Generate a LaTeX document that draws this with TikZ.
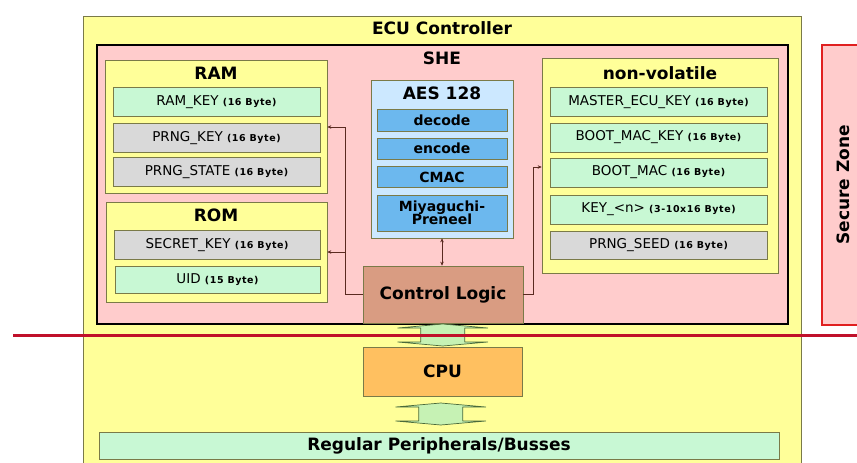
\documentclass[tikz,border=0pt]{standalone}
\usepackage{fontspec}
\setmainfont{DejaVu Sans}
\newfontfamily\bytefont[LetterSpace=6]{DejaVu Sans}
\usetikzlibrary{arrows.meta,calc}

\definecolor{ecuyellow}{HTML}{FFFF99}
\definecolor{shepink}{HTML}{FFCCCC}
\definecolor{keygreen}{HTML}{C8F8D4}
\definecolor{keygray}{HTML}{D9D9D9}
\definecolor{aesblue}{HTML}{CCE8FF}
\definecolor{opblue}{HTML}{6CB8EE}
\definecolor{logicbrown}{HTML}{D99C82}
\definecolor{cpuorange}{HTML}{FFC060}
\definecolor{edgeolive}{HTML}{7A7A48}
\definecolor{zonered}{HTML}{E02020}
\definecolor{linered}{HTML}{C0102A}
\definecolor{arrowgreen}{HTML}{C6F2B4}
\definecolor{arrowedge}{HTML}{4A6A3A}
\definecolor{wirebrown}{HTML}{5A2A20}

% size suffix of a key entry, e.g. "(16 Byte)"
\newcommand\bsz[1]{{\bytefont\fontsize{9.5}{10}\bfseries #1}}

\tikzset{
  frame/.style={draw=edgeolive, line width=0.6pt, inner sep=0pt},
  title/.style={font=\fontsize{17}{19}\selectfont\bfseries, inner sep=0pt},
  keybox/.style={frame, minimum height=29pt, font=\fontsize{13.5}{15}\selectfont},
  greenkey/.style={keybox, fill=keygreen},
  graykey/.style={keybox, fill=keygray},
  opbox/.style={draw=edgeolive, fill=opblue, line width=0.6pt, inner sep=0pt,
    minimum width=130pt, font=\fontsize{14}{14}\selectfont\bfseries, align=center},
  wire/.style={draw=wirebrown, line width=0.8pt},
  tip/.style={-{Stealth[length=4pt,width=3.5pt]}},
  fat/.style={draw=arrowedge, fill=arrowgreen, line width=0.7pt, line join=round},
  dblarrow/.pic={
    \path[fat] (0,-11) -- (45,-7) -- (22,-7) -- (22,7) -- (45,7) -- (0,11)
      -- (-45,7) -- (-22,7) -- (-22,-7) -- (-45,-7) -- cycle;
  }
}

\begin{document}
\begin{tikzpicture}[x=1pt, y=-1pt]
\useasboundingbox (0,0) rectangle (857,463);
\clip (0,0) rectangle (857,463);

% ECU and secure zone frames
\node[frame, fill=ecuyellow, minimum width=718pt, minimum height=460pt] (ecu) at (442,246) {};
\node[title] (ecut) at (442,28) {ECU Controller};
\node[draw=zonered, fill=shepink, line width=1.4pt, minimum width=50pt, minimum height=280pt] (zone) at (847,185) {};
\node[title, rotate=90] (zonet) at (843,185) {Secure Zone};

% SHE module
\node[draw=black, fill=shepink, line width=2.2pt, minimum width=691pt, minimum height=279pt, inner sep=0pt] (she) at (442.5,184.5) {};
\node[title] (shet) at (442,58) {SHE};

% RAM
\node[frame, fill=ecuyellow, minimum width=222pt, minimum height=133pt] (ram) at (216,126.5) {};
\node[title] (ramt) at (216,73) {RAM};
\node[greenkey, minimum width=207pt] (ramkey) at (216.5,102) {RAM\_KEY \bsz{(16 Byte)}};
\node[graykey, minimum width=207pt] (prngkey) at (216.5,138) {PRNG\_KEY \bsz{(16 Byte)}};
\node[graykey, minimum width=207pt] (prngstate) at (216.5,172) {PRNG\_STATE \bsz{(16 Byte)}};

% ROM
\node[frame, fill=ecuyellow, minimum width=221pt, minimum height=100pt] (rom) at (216.5,252) {};
\node[title] (romt) at (216,215) {ROM};
\node[graykey, minimum width=206pt] (secret) at (217,245) {SECRET\_KEY \bsz{(16 Byte)}};
\node[greenkey, minimum width=205pt, minimum height=27pt] (uid) at (217.5,279.5) {UID \bsz{(15 Byte)}};

% non-volatile memory
\node[frame, fill=ecuyellow, minimum width=236pt, minimum height=215pt] (nv) at (660,165.5) {};
\node[title] (nvt) at (660,73) {non-volatile};
\node[greenkey, minimum width=217pt] (master) at (658.5,102) {MASTER\_ECU\_KEY \bsz{(16 Byte)}};
\node[greenkey, minimum width=217pt] (bootkey) at (658.5,137.5) {BOOT\_MAC\_KEY \bsz{(16 Byte)}};
\node[greenkey, minimum width=217pt] (bootmac) at (658.5,172.5) {BOOT\_MAC \bsz{(16 Byte)}};
\node[greenkey, minimum width=217pt] (keyn) at (658.5,209.5) {KEY\_<n> \bsz{(3-10x16 Byte)}};
\node[graykey, minimum width=217pt, minimum height=28pt] (seed) at (658.5,245) {PRNG\_SEED \bsz{(16 Byte)}};

% AES engine
\node[frame, fill=aesblue, minimum width=142pt, minimum height=158pt] (aes) at (442,159) {};
\node[title] (aest) at (442,93) {AES 128};
\node[opbox, minimum height=22pt] (decode) at (442,120) {decode};
\node[opbox, minimum height=21pt] (encode) at (442,148.5) {encode};
\node[opbox, minimum height=21pt] (cmac) at (442,177) {CMAC};
\node[opbox, minimum height=36pt] (mp) at (442,213) {Miyaguchi-\\[-1pt]Preneel};

% control logic
\node[frame, fill=logicbrown, minimum width=160pt, minimum height=57pt,
      font=\fontsize{17}{19}\selectfont\bfseries] (cl) at (443,294.5) {Control Logic};

% connections inside SHE
\coordinate (lt) at (345,127);
\coordinate (lb) at (345,252);
\coordinate (rt) at (533,167);
\draw[wire, tip] (cl.west) -| (lt) -- (ram.east |- lt);
\draw[wire, tip] (lb) -- (rom.east |- lb);
\draw[wire, tip] (cl.east) -| (rt) -- (nv.west |- rt);
\draw[wire, {Stealth[length=4pt,width=3.5pt]}-{Stealth[length=4pt,width=3.5pt]}] (aes.south) -- (aes.south |- cl.north);

% CPU and peripherals
\node[frame, fill=cpuorange, minimum width=159pt, minimum height=49pt,
      font=\fontsize{17}{19}\selectfont\bfseries] (cpu) at (442.5,371.5) {CPU};
\node[frame, fill=keygreen, minimum width=680pt, minimum height=27pt,
      font=\fontsize{17}{19}\selectfont\bfseries] (periph) at (439,445.5) {Regular Peripherals/Busses};

\pic at ($(cl.south)!0.5!(cpu.north)$) {dblarrow};
\pic at ($(cpu.south)!0.5!(periph.north)$) {dblarrow};

% boundary of the secure zone
\coordinate (zl) at (13,335.5);
\coordinate (zr) at (857,335.5);
\draw[linered, line width=2.6pt] (zl) -- (zr);
\end{tikzpicture}
\end{document}
